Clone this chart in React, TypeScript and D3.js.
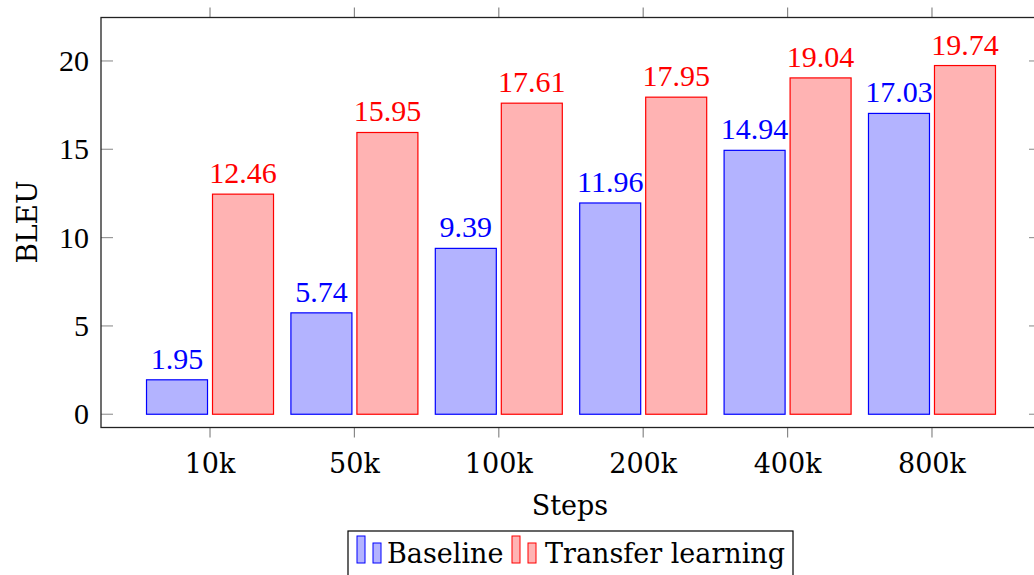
import React from "react"
import * as d3 from "d3"

const categories = ["10k", "50k", "100k", "200k", "400k", "800k"]
const baseline = [1.95, 5.74, 9.39, 11.96, 14.94, 17.03]
const transfer = [12.46, 15.95, 17.61, 17.95, 19.04, 19.74]
const yTicks = [0, 5, 10, 15, 20]
const seriesNames = ["Baseline", "Transfer learning"]

const W = 1034
const H = 575
const textFont = "'DejaVu Serif', serif"
const mathFont = "'Liberation Serif', serif"

const App = () => {
  const frame = { left: 101, right: 1041, top: 17.5, bottom: 427.5 }
  const x = d3
    .scaleLinear()
    .domain([-0.755, 5.755])
    .range([frame.left, frame.right])
  const y = d3
    .scaleLinear()
    .domain([-0.75, 22.46])
    .range([frame.bottom, frame.top])
  const off = 33
  const bw = 61
  const series = [
    { name: seriesNames[0], values: baseline, stroke: "#0000ff", fill: "#b3b3ff", dx: -off },
    { name: seriesNames[1], values: transfer, stroke: "#ff0000", fill: "#ffb3b3", dx: off },
  ]

  return (
    <svg
      width={W}
      height={H}
      style={{ position: "absolute", left: 0, top: 0, background: "#fff" }}
    >
      {/* bars and value labels */}
      {series.map(s => (
        <g key={s.name}>
          {s.values.map((v, i) => (
            <g key={i}>
              <rect
                x={x(i) + s.dx - bw / 2}
                y={y(v)}
                width={bw}
                height={y(0) - y(v)}
                fill={s.fill}
                stroke={s.stroke}
                strokeWidth={1.2}
              />
              <text
                x={x(i) + s.dx}
                y={y(v) - 11}
                textAnchor="middle"
                fontSize={30}
                fontFamily={mathFont}
                fill={s.stroke}
              >
                {v.toFixed(2)}
              </text>
            </g>
          ))}
        </g>
      ))}

      {/* y ticks, inward on both sides */}
      {yTicks.map(t => (
        <g key={t}>
          <line x1={frame.left} x2={frame.left + 12} y1={y(t)} y2={y(t)} stroke="#999" strokeWidth={1.2} />
          <line x1={frame.right - 12} x2={frame.right} y1={y(t)} y2={y(t)} stroke="#999" strokeWidth={1.2} />
          <text x={89} y={y(t)} dy="0.34em" textAnchor="end" fontSize={30} fontFamily={mathFont}>
            {t}
          </text>
        </g>
      ))}

      {/* x ticks, outward top and bottom */}
      {categories.map((c, i) => (
        <g key={c}>
          <line x1={x(i)} x2={x(i)} y1={frame.bottom} y2={frame.bottom + 10} stroke="#888" strokeWidth={1.2} />
          <line x1={x(i)} x2={x(i)} y1={frame.top - 10} y2={frame.top} stroke="#888" strokeWidth={1.2} />
          <text x={x(i)} y={473} textAnchor="middle" fontSize={27} fontFamily={textFont}>
            {c}
          </text>
        </g>
      ))}

      <rect
        x={frame.left}
        y={frame.top}
        width={frame.right - frame.left}
        height={frame.bottom - frame.top}
        fill="none"
        stroke="#222"
        strokeWidth={1.3}
      />

      <text x={570} y={515} textAnchor="middle" fontSize={27} fontFamily={textFont}>
        Steps
      </text>
      <text
        transform={`translate(37,222) rotate(-90)`}
        textAnchor="middle"
        fontSize={28}
        fontFamily={textFont}
      >
        BLEU
      </text>

      {/* legend */}
      <rect x={348} y={531} width={445} height={60} fill="#fff" stroke="#000" strokeWidth={1.2} />
      <g fontFamily={textFont} fontSize={27}>
        <rect x={357} y={536} width={8} height={27} fill="#b3b3ff" stroke="#0000ff" strokeWidth={1} />
        <rect x={373} y={543} width={8} height={20} fill="#b3b3ff" stroke="#0000ff" strokeWidth={1} />
        <text x={387} y={563}>{seriesNames[0]}</text>
        <rect x={512} y={536} width={8} height={27} fill="#ffb3b3" stroke="#ff0000" strokeWidth={1} />
        <rect x={528} y={543} width={8} height={20} fill="#ffb3b3" stroke="#ff0000" strokeWidth={1} />
        <text x={545} y={563}>{seriesNames[1]}</text>
      </g>
    </svg>
  )
}

export default App
